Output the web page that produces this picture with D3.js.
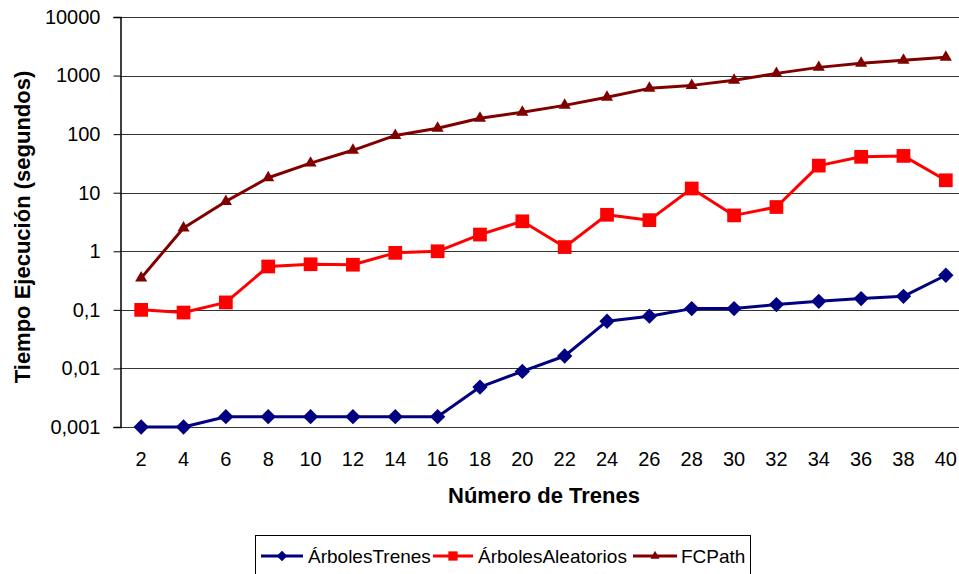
<!DOCTYPE html>
<html>
<head>
<meta charset="utf-8">
<script src="https://cdn.jsdelivr.net/npm/d3@7"></script>
<style>
  html, body { margin: 0; padding: 0; background: #fff; }
  svg { display: block; font-family: "Liberation Sans", Arial, sans-serif; }
</style>
</head>
<body>
<svg id="chart" width="959" height="574"></svg>
<script>
// Number of trains on the x axis
const trenes = [2, 4, 6, 8, 10, 12, 14, 16, 18, 20, 22, 24, 26, 28, 30, 32, 34, 36, 38, 40];

// Execution time in seconds for each method
const arbolesTrenes = [0.001, 0.001, 0.0015, 0.0015, 0.0015, 0.0015, 0.0015, 0.0015, 0.0048, 0.0089,
  0.0163, 0.064, 0.078, 0.105, 0.105, 0.123, 0.14, 0.156, 0.17, 0.39];
const arbolesAleatorios = [0.1, 0.09, 0.134, 0.55, 0.6, 0.59, 0.94, 1.0, 1.93, 3.25,
  1.18, 4.2, 3.4, 11.8, 4.1, 5.7, 29, 41, 42.5, 16.3];
const fcPath = [0.35, 2.5, 7.1, 18, 32, 53, 95, 126, 187, 237,
  310, 425, 605, 680, 830, 1090, 1380, 1620, 1820, 2050];

// Y axis ticks and their labels (decimal comma)
const yTicks = [0.001, 0.01, 0.1, 1, 10, 100, 1000, 10000];
const yTickLabels = ["0,001", "0,01", "0,1", "1", "10", "100", "1000", "10000"];

const seriesNames = ["ÁrbolesTrenes", "ÁrbolesAleatorios", "FCPath"];

const series = [
  { name: seriesNames[0], values: arbolesTrenes, color: "#000080", symbol: d3.symbolDiamond2, size: 150, legendSize: 70 },
  { name: seriesNames[1], values: arbolesAleatorios, color: "#FF0000", symbol: d3.symbolSquare2, size: 240, legendSize: 110 },
  { name: seriesNames[2], values: fcPath, color: "#800000", symbol: d3.symbolTriangle2, size: 105, legendSize: 60 }
];

const svg = d3.select("#chart");
const plot = { left: 120, top: 17, right: 967, bottom: 427 };

const x = d3.scaleBand().domain(trenes).range([plot.left, plot.right]).padding(0);
const cx = d => x(d) + x.bandwidth() / 2;
const y = d3.scaleLog().domain([0.001, 10000]).range([plot.bottom, plot.top]);

// Horizontal gridlines at each decade
svg.append("g")
  .selectAll("line")
  .data(yTicks)
  .join("line")
  .attr("x1", plot.left)
  .attr("x2", plot.right)
  .attr("y1", d => Math.round(y(d)) + 0.5)
  .attr("y2", d => Math.round(y(d)) + 0.5)
  .attr("stroke", "#333")
  .attr("stroke-width", 1.2);

// Y axis
const yAxis = d3.axisLeft(y)
  .tickValues(yTicks)
  .tickFormat((d, i) => yTickLabels[i])
  .tickSize(7)
  .tickPadding(13);

svg.append("g")
  .attr("transform", `translate(${plot.left + 0.5},0)`)
  .call(yAxis)
  .call(g => g.select(".domain").attr("stroke", "#000").attr("stroke-width", 1.5))
  .call(g => g.selectAll(".tick line").attr("stroke", "#000"))
  .call(g => g.selectAll(".tick text")
    .attr("font-size", 20)
    .attr("font-family", "'Liberation Sans', Arial, sans-serif")
    .attr("fill", "#000"));

// X axis labels
const xAxis = d3.axisBottom(x).tickSize(0).tickPadding(25);
svg.append("g")
  .attr("transform", `translate(0,${plot.bottom})`)
  .call(xAxis)
  .call(g => g.select(".domain").remove())
  .call(g => g.selectAll(".tick text")
    .attr("font-size", 20)
    .attr("font-family", "'Liberation Sans', Arial, sans-serif")
    .attr("fill", "#000"));

// Axis titles
svg.append("text")
  .attr("x", 544)
  .attr("y", 503)
  .attr("text-anchor", "middle")
  .attr("font-size", 22)
  .attr("font-weight", "bold")
  .text("Número de Trenes");

svg.append("text")
  .attr("transform", "translate(30,227) rotate(-90)")
  .attr("text-anchor", "middle")
  .attr("font-size", 22)
  .attr("font-weight", "bold")
  .text("Tiempo Ejecución (segundos)");

// Lines and markers
const line = d3.line()
  .x((d, i) => cx(trenes[i]))
  .y(d => y(d));

series.forEach(s => {
  const g = svg.append("g");
  g.append("path")
    .attr("d", line(s.values))
    .attr("fill", "none")
    .attr("stroke", s.color)
    .attr("stroke-width", 3)
    .attr("stroke-linejoin", "round");
  g.selectAll("path.marker")
    .data(s.values)
    .join("path")
    .attr("class", "marker")
    .attr("d", d3.symbol().type(s.symbol).size(s.size))
    .attr("transform", (d, i) => `translate(${cx(trenes[i])},${y(d)})`)
    .attr("fill", s.color);
});

// Legend
const legend = svg.append("g");
legend.append("rect")
  .attr("x", 255.5)
  .attr("y", 535.5)
  .attr("width", 495)
  .attr("height", 50)
  .attr("fill", "#fff")
  .attr("stroke", "#000")
  .attr("stroke-width", 1);

const legendItems = [
  { x0: 261, x1: 303, tx: 308 },
  { x0: 433, x1: 473, tx: 478 },
  { x0: 633, x1: 677, tx: 681 }
];
const ly = 556;
series.forEach((s, i) => {
  const it = legendItems[i];
  legend.append("line")
    .attr("x1", it.x0).attr("x2", it.x1)
    .attr("y1", ly).attr("y2", ly)
    .attr("stroke", s.color).attr("stroke-width", 3);
  legend.append("path")
    .attr("d", d3.symbol().type(s.symbol).size(s.legendSize))
    .attr("transform", `translate(${(it.x0 + it.x1) / 2},${ly})`)
    .attr("fill", s.color);
  legend.append("text")
    .attr("x", it.tx)
    .attr("y", ly + 7)
    .attr("font-size", 19)
    .attr("fill", "#000")
    .text(s.name);
});
</script>
</body>
</html>
